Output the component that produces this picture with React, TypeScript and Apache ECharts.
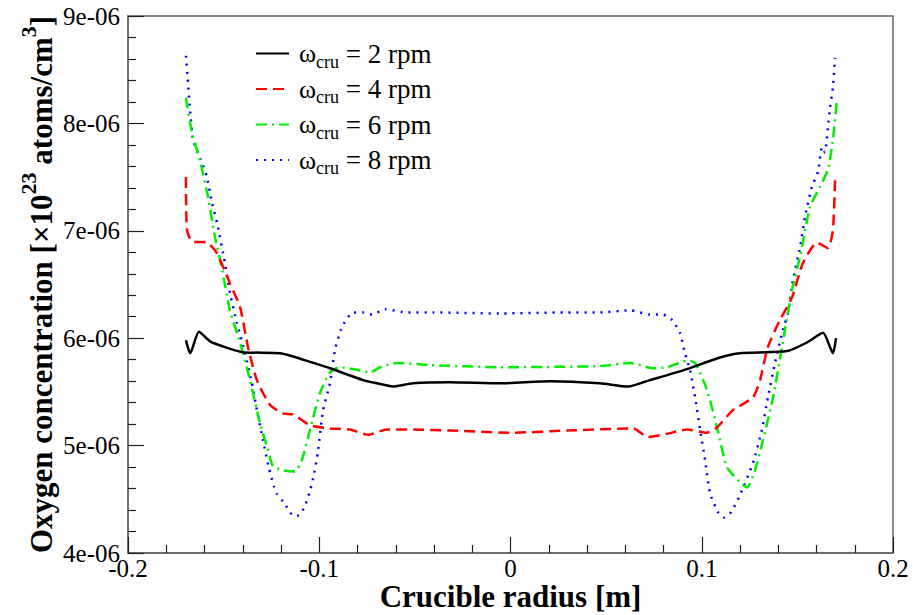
import React, { useEffect, useRef } from "react";
import * as echarts from "echarts";

const rpmValues = [2, 4, 6, 8];
const seriesNames = rpmValues.map((v) => `ωcru = ${v} rpm`);
const seriesColors = ["#000000", "#ff0000", "#00ee00", "#0000ff"];

const xTicks = { min: -0.2, max: 0.2, interval: 0.1 };
const yTicks = { min: 4e-6, max: 9e-6, interval: 1e-6 };

const rpm2: [number, number][] = [
  [-0.1697, 5.98e-6], [-0.1675, 5.86e-6], [-0.1629, 6.06e-6], [-0.1571, 5.97e-6],
  [-0.1482, 5.91e-6], [-0.1399, 5.87e-6], [-0.1205, 5.86e-6], [-0.1137, 5.83e-6],
  [-0.1048, 5.78e-6], [-0.0944, 5.72e-6], [-0.0771, 5.61e-6], [-0.0698, 5.58e-6],
  [-0.0614, 5.55e-6], [-0.051, 5.58e-6], [-0.0316, 5.59e-6], [-0.0055, 5.58e-6],
  [0.0207, 5.6e-6], [0.0468, 5.58e-6], [0.0614, 5.55e-6], [0.0729, 5.61e-6],
  [0.0902, 5.7e-6], [0.1095, 5.82e-6], [0.12, 5.86e-6], [0.1446, 5.88e-6],
  [0.155, 5.96e-6], [0.1634, 6.05e-6], [0.1686, 5.86e-6], [0.1702, 6.0e-6],
];

const rpm4: [number, number][] = [
  [-0.1697, 7.5e-6], [-0.1692, 7.01e-6], [-0.1665, 6.9e-6], [-0.1587, 6.89e-6],
  [-0.1534, 6.79e-6], [-0.1467, 6.51e-6], [-0.1414, 6.29e-6], [-0.1373, 5.92e-6],
  [-0.1326, 5.61e-6], [-0.1258, 5.38e-6], [-0.119, 5.3e-6], [-0.1137, 5.29e-6],
  [-0.1048, 5.19e-6], [-0.0944, 5.16e-6], [-0.0839, 5.15e-6], [-0.0745, 5.1e-6],
  [-0.0646, 5.15e-6], [-0.051, 5.15e-6], [-0.0316, 5.14e-6], [0.0013, 5.12e-6],
  [0.0295, 5.14e-6], [0.0641, 5.16e-6], [0.0719, 5.08e-6], [0.0818, 5.11e-6],
  [0.0923, 5.15e-6], [0.1027, 5.12e-6], [0.108, 5.17e-6], [0.1163, 5.33e-6],
  [0.1268, 5.45e-6], [0.1305, 5.61e-6], [0.1346, 5.92e-6], [0.1409, 6.17e-6],
  [0.1472, 6.38e-6], [0.1529, 6.7e-6], [0.1603, 6.89e-6], [0.166, 6.84e-6],
  [0.1686, 7.01e-6], [0.1697, 7.47e-6],
];

const rpm6: [number, number][] = [
  [-0.1697, 8.24e-6], [-0.1665, 7.91e-6], [-0.1624, 7.66e-6], [-0.1582, 7.32e-6],
  [-0.1545, 6.94e-6], [-0.1508, 6.64e-6], [-0.1467, 6.26e-6], [-0.1414, 5.96e-6],
  [-0.1362, 5.61e-6], [-0.131, 5.21e-6], [-0.1273, 4.99e-6], [-0.1242, 4.81e-6],
  [-0.119, 4.77e-6], [-0.1127, 4.76e-6], [-0.109, 4.87e-6], [-0.1048, 5.15e-6],
  [-0.0996, 5.49e-6], [-0.0944, 5.68e-6], [-0.0891, 5.73e-6], [-0.0787, 5.7e-6],
  [-0.0735, 5.68e-6], [-0.0682, 5.73e-6], [-0.0593, 5.77e-6], [-0.0421, 5.75e-6],
  [-0.0055, 5.73e-6], [0.0468, 5.74e-6], [0.0625, 5.77e-6], [0.0745, 5.72e-6],
  [0.0818, 5.73e-6], [0.0923, 5.79e-6], [0.0965, 5.77e-6], [0.1027, 5.52e-6],
  [0.108, 5.17e-6], [0.1132, 4.8e-6], [0.12, 4.66e-6], [0.1237, 4.61e-6],
  [0.1278, 4.77e-6], [0.132, 5.05e-6], [0.1373, 5.45e-6], [0.142, 5.92e-6],
  [0.1472, 6.45e-6], [0.1514, 6.76e-6], [0.1566, 7.22e-6], [0.1618, 7.41e-6],
  [0.166, 7.57e-6], [0.1686, 7.85e-6], [0.1707, 8.22e-6],
];

const rpm8: [number, number][] = [
  [-0.1697, 8.63e-6], [-0.1686, 8.38e-6], [-0.1676, 8.13e-6], [-0.166, 7.85e-6],
  [-0.1634, 7.72e-6], [-0.1613, 7.63e-6], [-0.1587, 7.5e-6], [-0.1561, 7.26e-6],
  [-0.1534, 7.07e-6], [-0.1493, 6.7e-6], [-0.1467, 6.42e-6], [-0.143, 6.14e-6],
  [-0.1388, 5.86e-6], [-0.1352, 5.58e-6], [-0.1326, 5.33e-6], [-0.1294, 5.05e-6],
  [-0.1263, 4.79e-6], [-0.1237, 4.62e-6], [-0.1221, 4.55e-6], [-0.119, 4.48e-6],
  [-0.1163, 4.41e-6], [-0.1137, 4.35e-6], [-0.1106, 4.35e-6], [-0.1075, 4.44e-6],
  [-0.1048, 4.58e-6], [-0.1027, 4.74e-6], [-0.1007, 4.94e-6], [-0.098, 5.33e-6],
  [-0.0944, 5.58e-6], [-0.0918, 5.89e-6], [-0.0886, 6.08e-6], [-0.086, 6.17e-6],
  [-0.0824, 6.24e-6], [-0.0771, 6.24e-6], [-0.0724, 6.22e-6], [-0.0656, 6.27e-6],
  [-0.0541, 6.24e-6], [-0.0405, 6.24e-6], [-0.0055, 6.23e-6], [0.0295, 6.24e-6],
  [0.0468, 6.24e-6], [0.0625, 6.26e-6], [0.0729, 6.22e-6], [0.0797, 6.22e-6],
  [0.0844, 6.17e-6], [0.0886, 6.05e-6], [0.0912, 5.86e-6], [0.0939, 5.7e-6],
  [0.0965, 5.45e-6], [0.0991, 5.15e-6], [0.1017, 4.87e-6], [0.1043, 4.56e-6],
  [0.1085, 4.38e-6], [0.1116, 4.33e-6], [0.1153, 4.38e-6], [0.12, 4.54e-6],
  [0.1268, 4.84e-6], [0.1315, 5.15e-6], [0.1346, 5.45e-6], [0.1383, 5.77e-6],
  [0.1425, 6.08e-6], [0.1451, 6.24e-6], [0.1477, 6.54e-6], [0.1514, 6.85e-6],
  [0.154, 7.13e-6], [0.1576, 7.41e-6], [0.1608, 7.55e-6], [0.1629, 7.78e-6],
  [0.1644, 7.73e-6], [0.166, 7.97e-6], [0.1671, 8.15e-6], [0.1686, 8.34e-6],
  [0.1697, 8.61e-6],
];

const seriesData = [rpm2, rpm4, rpm6, rpm8];
const lineTypes: any[] = ["solid", [11, 6], [11, 5, 2, 5], [2, 6]];
const lineWidths = [2.5, 2.5, 2.5, 2.5];

const FONT = "'Liberation Serif', 'Times New Roman', serif";

export default function App() {
  const ref = useRef<HTMLDivElement>(null);
  useEffect(() => {
    if (!ref.current) return;
    const chart = echarts.init(ref.current, undefined, { renderer: "svg" });
    const rpmByName: Record<string, number> = {};
    seriesNames.forEach((n, i) => (rpmByName[n] = rpmValues[i]));
    chart.setOption({
      animation: false,
      backgroundColor: "#ffffff",
      textStyle: { fontFamily: FONT },
      grid: {
        left: 128,
        right: 20,
        top: 16,
        bottom: 62,
        outerBoundsMode: "none",
        containLabel: false,
        show: true,
        borderColor: "#666666",
        borderWidth: 1.5,
        backgroundColor: "transparent",
      },
      legend: {
        show: true,
        orient: "vertical",
        left: 250,
        top: 35,
        itemWidth: 33,
        itemHeight: 14,
        itemGap: 5,
        itemStyle: { opacity: 0 },
        data: seriesNames,
        formatter: (name: string) => `{w|ω}{s|cru}{t| = ${rpmByName[name]} rpm}`,
        textStyle: {
          fontFamily: FONT,
          color: "#000",
          padding: [0, 0, 0, 5],
          rich: {
            w: { fontFamily: FONT, fontSize: 26, color: "#000", lineHeight: 34, verticalAlign: "middle" },
            s: { fontFamily: FONT, fontSize: 18, color: "#000", lineHeight: 12, verticalAlign: "bottom" },
            t: { fontFamily: FONT, fontSize: 27, color: "#000", lineHeight: 34, verticalAlign: "middle" },
          },
        },
      },
      xAxis: {
        type: "value",
        min: xTicks.min,
        max: xTicks.max,
        interval: xTicks.interval,
        name: "Crucible radius [m]",
        nameLocation: "middle",
        nameGap: 30,
        nameMoveOverlap: false,
        nameTextStyle: { fontFamily: FONT, fontSize: 31, lineHeight: 26, fontWeight: "bold", color: "#000" },
        splitLine: { show: false },
        axisLine: { show: true, onZero: false, lineStyle: { color: "#666666", width: 1.5 } },
        axisTick: { show: true, inside: true, length: 16, lineStyle: { color: "#222", width: 1.2 } },
        minorTick: { show: true, splitNumber: 5, length: 8, lineStyle: { color: "#222", width: 1.2 } },
        axisLabel: {
          fontFamily: FONT,
          fontSize: 25,
          color: "#000",
          margin: 3,
          formatter: (v: number) => (Math.abs(v) < 1e-12 ? "0" : String(Number(v.toFixed(2)))),
        },
      },
      yAxis: {
        type: "value",
        min: yTicks.min,
        max: yTicks.max,
        interval: yTicks.interval,
        name: "{b|Oxygen concentration [×10}{p|23}{b| atoms/cm}{p|3}{b|]}",
        nameLocation: "middle",
        nameRotate: 90,
        nameGap: 71,
        nameMoveOverlap: false,
        nameTextStyle: {
          fontFamily: FONT,
          color: "#000",
          rich: {
            b: { fontFamily: FONT, fontSize: 31, fontWeight: "bold", color: "#000", lineHeight: 40, verticalAlign: "bottom" },
            p: { fontFamily: FONT, fontSize: 22, fontWeight: "bold", color: "#000", lineHeight: 22, verticalAlign: "top" },
          },
        },
        splitLine: { show: false },
        axisLine: { show: true, onZero: false, lineStyle: { color: "#666666", width: 1.5 } },
        axisTick: { show: true, inside: true, length: 16, lineStyle: { color: "#222", width: 1.2 } },
        minorTick: { show: true, splitNumber: 5, length: 8, lineStyle: { color: "#222", width: 1.2 } },
        axisLabel: {
          fontFamily: FONT,
          fontSize: 25,
          color: "#000",
          margin: 8,
          formatter: (v: number) => v.toExponential(0).replace(/e([+-])(\d)$/, "e$10$2"),
        },
      },
      series: seriesData.map((d, i) => ({
        name: seriesNames[i],
        type: "line",
        data: d,
        symbol: "none",
        showSymbol: false,
        smooth: 0.2,
        lineStyle: { color: seriesColors[i], width: lineWidths[i], type: lineTypes[i] },
        itemStyle: { color: seriesColors[i] },
        z: 10 - i,
      })),
    });
    return () => chart.dispose();
  }, []);
  return (
    <div
      ref={ref}
      style={{ position: "fixed", left: 0, top: 0, width: 913, height: 615, background: "#fff" }}
    />
  );
}
